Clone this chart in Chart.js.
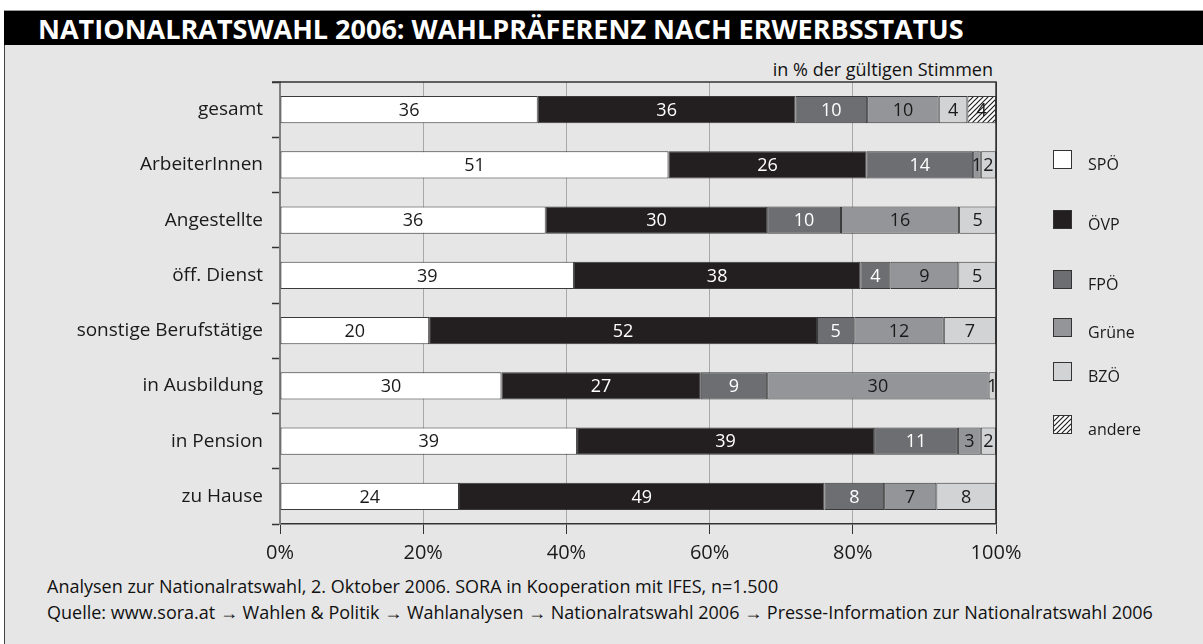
<!DOCTYPE html>
<html>
<head>
<meta charset="utf-8">
<script src="https://cdn.jsdelivr.net/npm/chart.js@4"></script>
<style>
  body { margin: 0; background: #fff; font-family: "Open Sans", sans-serif; }
  #title {
    position: absolute; left: 4px; top: 10px; width: 1199px; height: 35px;
    background: #000; color: #fff; font-weight: bold; font-size: 27px;
    line-height: 36px; padding-left: 34px; box-sizing: border-box;
    border-top: 1px solid #999;
  }
  #panel {
    position: absolute; left: 4px; top: 45px; right: 0; bottom: 0;
    background: #e6e6e6; border-left: 1px solid #444;
  }
  #unit { position: absolute; right: 210px; top: 57px; font-size: 18px; color: #111; }
  #foot { position: absolute; left: 47px; top: 573px; font-size: 18px; line-height: 26px; color: #111; }
  canvas { position: absolute; left: 0; top: 0; }
</style>
</head>
<body>
<div id="title">NATIONALRATSWAHL 2006: WAHLPRÄFERENZ NACH ERWERBSSTATUS</div>
<div id="panel"></div>
<div id="unit">in % der gültigen Stimmen</div>
<div id="foot">Analysen zur Nationalratswahl, 2. Oktober 2006. SORA in Kooperation mit IFES, n=1.500<br>
Quelle: www.sora.at → Wahlen &amp; Politik → Wahlanalysen → Nationalratswahl 2006 → Presse-Information zur Nationalratswahl 2006</div>
<canvas id="chart" width="1203" height="644"></canvas>
<script>
/**
 * Data
 */
const categories = ["gesamt", "ArbeiterInnen", "Angestellte", "öff. Dienst",
    "sonstige Berufstätige", "in Ausbildung", "in Pension", "zu Hause"];
const parties = ["SPÖ", "ÖVP", "FPÖ", "Grüne", "BZÖ", "andere"];
const spoe   = [36, 51, 36, 39, 20, 30, 39, 24];
const oevp   = [36, 26, 30, 38, 52, 27, 39, 49];
const fpoe   = [10, 14, 10,  4,  5,  9, 11,  8];
const gruene = [10,  1, 16,  9, 12, 30,  3,  7];
const bzoe   = [ 4,  2,  5,  5,  7,  1,  2,  8];
const andere = [ 4,  0,  0,  0,  0,  0,  0,  0];
const xTicks = [0, 20, 40, 60, 80, 100];

const series = [spoe, oevp, fpoe, gruene, bzoe, andere];

/**
 * Styles
 */
const fillColors = ["#ffffff", "#231f20", "#6d6e71", "#939598", "#d1d3d4", null];
const textColors = ["#1a1a1a", "#ffffff", "#ffffff", "#1a1a1a", "#1a1a1a", "#1a1a1a"];
const legendY = [150, 210, 270, 318, 362, 415];

function hatchPattern() {
    const c = document.createElement("canvas");
    c.width = 5; c.height = 5;
    const g = c.getContext("2d");
    g.fillStyle = "#ffffff";
    g.fillRect(0, 0, 5, 5);
    g.strokeStyle = "#222";
    g.lineWidth = 1.2;
    g.beginPath();
    g.moveTo(-1, 6); g.lineTo(6, -1);
    g.moveTo(-1, 1); g.lineTo(1, -1);
    g.moveTo(4, 6); g.lineTo(6, 4);
    g.stroke();
    return g.createPattern(c, "repeat");
}
fillColors[5] = hatchPattern();

// bars are scaled to the sum of the shown values per row
const rowTotals = categories.map((c, i) => series.reduce((s, arr) => s + arr[i], 0));

function getShares(values) {
    return values.map((v, i) => v / rowTotals[i] * 100);
}

const datasets = series.map((values, k) => ({
    label: parties[k],
    data: getShares(values),
    raw: values,
    backgroundColor: fillColors[k],
    borderColor: "#3a3a3a",
    borderWidth: 1,
    borderSkipped: false,
    categoryPercentage: 1,
    barPercentage: 0.49
}));

/**
 * Plugins
 */
const valueLabels = {
    id: "valueLabels",
    afterDatasetsDraw(chart) {
        const ctx = chart.ctx;
        ctx.save();
        ctx.font = "18px 'Open Sans'";
        ctx.textAlign = "center";
        ctx.textBaseline = "middle";
        chart.data.datasets.forEach((ds, k) => {
            chart.getDatasetMeta(k).data.forEach((bar, i) => {
                const v = ds.raw[i];
                if (!v) return;
                ctx.fillStyle = textColors[k];
                ctx.fillText(String(v), (bar.x + bar.base) / 2, bar.y + 1);
            });
        });
        ctx.restore();
    }
};

const frame = {
    id: "frame",
    afterDraw(chart) {
        const a = chart.chartArea;
        const ctx = chart.ctx;
        ctx.save();
        ctx.strokeStyle = "#333";
        ctx.lineWidth = 1.5;
        ctx.beginPath();
        ctx.moveTo(a.left - 8, a.top);
        ctx.lineTo(a.right, a.top);
        ctx.lineTo(a.right, a.bottom);
        ctx.stroke();

        // legend
        ctx.font = "16px 'Open Sans'";
        ctx.textBaseline = "middle";
        ctx.textAlign = "left";
        chart.data.datasets.forEach((ds, k) => {
            const y = legendY[k];
            ctx.fillStyle = ds.backgroundColor;
            ctx.fillRect(1053, y, 19, 19);
            ctx.strokeStyle = "#333";
            ctx.lineWidth = 1;
            ctx.strokeRect(1053.5, y + 0.5, 18, 18);
            ctx.fillStyle = "#1a1a1a";
            ctx.fillText(ds.label, 1088, y + 15);
        });
        ctx.restore();
    }
};

/**
 * Chart
 */
new Chart(document.getElementById("chart"), {
    type: "bar",
    data: { labels: categories, datasets: datasets },
    plugins: [valueLabels, frame],
    options: {
        indexAxis: "y",
        responsive: false,
        animation: false,
        layout: { padding: { top: 82, right: 207, left: 0, bottom: 0 } },
        plugins: { legend: { display: false }, tooltip: { enabled: false } },
        scales: {
            x: {
                stacked: true,
                min: 0,
                max: 100,
                afterBuildTicks: (scale) => { scale.ticks = xTicks.map(v => ({ value: v })); },
                afterFit: (scale) => { scale.height = 120; },
                ticks: {
                    callback: (v) => v + "%",
                    color: "#1a1a1a",
                    font: { family: "Open Sans", size: 20 },
                    padding: 7,
                    maxRotation: 0
                },
                grid: {
                    color: (c) => (c.tick && c.tick.value === 100) ? "#333" : "#a8a8a8",
                    tickColor: "#333",
                    tickLength: 10,
                    lineWidth: 1
                },
                border: { color: "#333", width: 1.5 }
            },
            y: {
                stacked: true,
                afterFit: (scale) => { scale.width = 280; },
                ticks: {
                    color: "#1a1a1a",
                    font: { family: "Open Sans", size: 19 },
                    padding: 9
                },
                grid: {
                    offset: true,
                    drawOnChartArea: false,
                    tickLength: 8,
                    tickColor: "#333",
                    tickWidth: 1.5
                },
                border: { color: "#808080", width: 2 }
            }
        }
    }
});
</script>
</body>
</html>
